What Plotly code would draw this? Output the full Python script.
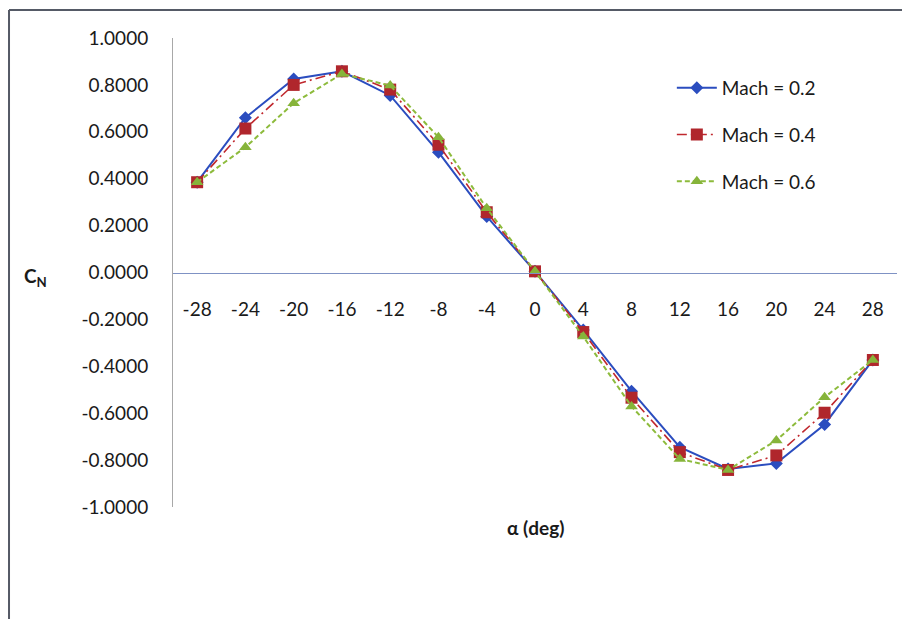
import plotly.graph_objects as go

alpha = ["-28", "-24", "-20", "-16", "-12", "-8", "-4", "0", "4", "8", "12", "16", "20", "24", "28"]
mach02 = [0.385, 0.660, 0.825, 0.858, 0.755, 0.513, 0.239, 0.005, -0.245, -0.506, -0.745, -0.838, -0.814, -0.648, -0.373]
mach04 = [0.385, 0.614, 0.800, 0.858, 0.780, 0.545, 0.257, 0.005, -0.254, -0.534, -0.766, -0.842, -0.780, -0.598, -0.373]
mach06 = [0.385, 0.534, 0.722, 0.847, 0.797, 0.577, 0.274, 0.005, -0.273, -0.571, -0.795, -0.842, -0.716, -0.532, -0.373]
series_names = ["Mach = 0.2", "Mach = 0.4", "Mach = 0.6"]
ytick_vals = [1.0, 0.8, 0.6, 0.4, 0.2, 0.0, -0.2, -0.4, -0.6, -0.8, -1.0]
ytick_text = ["1.0000", "0.8000", "0.6000", "0.4000", "0.2000", "0.0000",
              "-0.2000", "-0.4000", "-0.6000", "-0.8000", "-1.0000"]

FONT = "Lato, Carlito, Calibri, 'Open Sans', sans-serif"

fig = go.Figure()
fig.add_trace(go.Scatter(
    x=alpha, y=mach02, name=series_names[0], mode="lines+markers",
    line=dict(color="#2b4dbf", width=2),
    marker=dict(symbol="diamond", size=10, color="#2b4dbf"),
    legendgroup="a"))
fig.add_trace(go.Scatter(
    x=alpha, y=mach04, name=series_names[1], mode="lines+markers",
    line=dict(color="#c0282e", width=1.6, dash="10px,4px,2px,4px"),
    marker=dict(symbol="square", size=12, color="#b0262c"),
    legendgroup="b"))
fig.add_trace(go.Scatter(
    x=alpha, y=mach06, name=series_names[2], mode="lines+markers",
    line=dict(color="#8dbb3c", width=2, dash="5px,3px"),
    marker=dict(symbol="triangle-up", size=11, color="#86b43a"),
    legendgroup="c"))

fig.update_layout(
    width=910, height=619,
    margin=dict(l=165, r=21, t=30, b=120),
    paper_bgcolor="white", plot_bgcolor="white",
    font=dict(family=FONT, size=19, color="#1a1a1a"),
    showlegend=True,
    legend=dict(x=0.689, y=0.934, xanchor="left", yanchor="top",
                font=dict(size=19, family=FONT),
                tracegroupgap=19, bgcolor="rgba(0,0,0,0)", itemwidth=40),
    xaxis=dict(type="category", range=[-0.5, 14.5], anchor="free", position=0.5,
               showline=True, linecolor="#7f92c4", linewidth=1.2,
               showgrid=False, zeroline=False, ticks="",
               ticklabelstandoff=20, tickfont=dict(size=19)),
    yaxis=dict(range=[-1, 1], tickvals=ytick_vals, ticktext=ytick_text,
               showline=True, linecolor="#a8a8a8", linewidth=1,
               showgrid=False, zeroline=False, ticks="",
               ticklabelstandoff=20, tickfont=dict(size=19)),
    annotations=[
        dict(text="<b>α (deg)</b>", xref="paper", yref="paper", x=0.5, y=-0.015,
             xanchor="center", yanchor="top", showarrow=False,
             font=dict(size=19, family=FONT)),
        dict(text="<b>C<sub>N</sub></b>", xref="paper", yref="paper", x=-0.209, y=0.49,
             xanchor="left", yanchor="middle", showarrow=False,
             font=dict(size=19, family=FONT)),
    ],
    shapes=[
        dict(type="line", xref="paper", yref="paper", x0=-0.2265, x1=1.03, y0=1.0597, y1=1.0597,
             line=dict(color="#555a66", width=2)),
        dict(type="line", xref="paper", yref="paper", x0=-0.2265, x1=-0.2265, y0=1.0597, y1=-0.3,
             line=dict(color="#555a66", width=2)),
    ],
)

fig.write_html("out.html")
